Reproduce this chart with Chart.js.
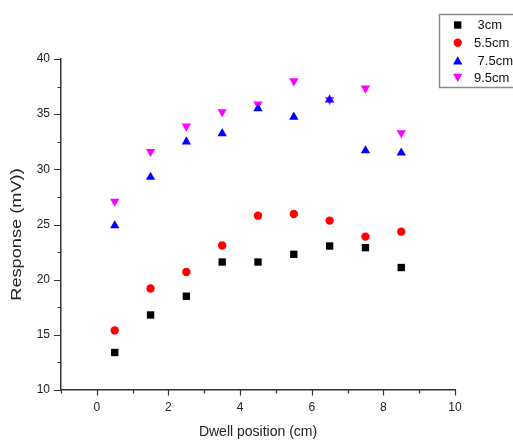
<!DOCTYPE html>
<html>
<head>
<meta charset="utf-8">
<script src="https://cdn.jsdelivr.net/npm/chart.js@4/dist/chart.umd.min.js"></script>
<style>
  html, body { margin: 0; padding: 0; background: #fff; }
  #wrap { width: 513px; height: 441px; }
</style>
</head>
<body>
<div id="wrap"><canvas id="c" width="513" height="441"></canvas></div>
<script>
// Dwell positions along the source path (cm)
const positions = [0.5, 1.5, 2.5, 3.5, 4.5, 5.5, 6.5, 7.5, 8.5];

// Detector response (mV) at each source distance
const resp3cm  = [13.4, 16.8, 18.5, 21.6, 21.6, 22.3, 23.05, 22.9, 21.1];
const resp55cm = [15.4, 19.2, 20.7, 23.1, 25.8, 25.95, 25.35, 23.9, 24.35];
const resp75cm = [24.9, 29.3, 32.5, 33.25, 35.5, 34.75, 36.3, 31.7, 31.5];
const resp95cm = [27.1, 31.6, 33.9, 35.2, 35.9, 38.0, 36.3, 37.35, 33.3];

const seriesNames = [' 3cm', '5.5cm', ' 7.5cm', '9.5cm'];
const xTickLabels = [0, 2, 4, 6, 8, 10];
const yTickLabels = [10, 15, 20, 25, 30, 35, 40];
const xMinorTicks = [-1, 1, 3, 5, 7, 9];
const yMinorTicks = [12.5, 17.5, 22.5, 27.5, 32.5, 37.5];

const FONT = 'Arial, "Liberation Sans", sans-serif';
const AXIS_COLOR = '#333';

const styles = [
  { color: '#000000', pointStyle: 'rect',     radius: 5.2, rotation: 0 },
  { color: '#ff0000', pointStyle: 'circle',   radius: 4.2, rotation: 0 },
  { color: '#0000ff', pointStyle: 'triangle', radius: 5.4, rotation: 0 },
  { color: '#ff00ff', pointStyle: 'triangle', radius: 5.4, rotation: 180 }
];
const allSeries = [resp3cm, resp55cm, resp75cm, resp95cm];

const datasets = allSeries.map((vals, i) => ({
  label: seriesNames[i].trim(),
  data: positions.map((p, j) => ({ x: p, y: vals[j] })),
  backgroundColor: styles[i].color,
  borderColor: styles[i].color,
  borderWidth: 0,
  pointStyle: styles[i].pointStyle,
  pointRadius: styles[i].radius,
  pointRotation: styles[i].rotation,
  pointHoverRadius: styles[i].radius,
  showLine: false
}));

// Outward major/minor tick marks on the left and bottom axes
const tickMarks = {
  id: 'tickMarks',
  afterDraw(chart) {
    const ctx = chart.ctx;
    const xs = chart.scales.x, ys = chart.scales.y;
    const area = chart.chartArea;
    ctx.save();
    ctx.strokeStyle = AXIS_COLOR;
    ctx.lineWidth = 1.2;
    ctx.beginPath();
    xTickLabels.forEach(v => {
      const px = Math.round(xs.getPixelForValue(v)) + 0.5;
      ctx.moveTo(px, area.bottom); ctx.lineTo(px, area.bottom + 5.5);
    });
    xMinorTicks.forEach(v => {
      const px = Math.round(xs.getPixelForValue(v)) + 0.5;
      ctx.moveTo(px, area.bottom); ctx.lineTo(px, area.bottom + 3.5);
    });
    yTickLabels.forEach(v => {
      const py = Math.round(ys.getPixelForValue(v)) + 0.5;
      ctx.moveTo(area.left, py); ctx.lineTo(area.left - 7, py);
    });
    yMinorTicks.forEach(v => {
      const py = Math.round(ys.getPixelForValue(v)) + 0.5;
      ctx.moveTo(area.left, py); ctx.lineTo(area.left - 3.5, py);
    });
    ctx.stroke();
    ctx.restore();
  }
};

// Vertical axis title, drawn a little elongated along its length
const yTitle = {
  id: 'yTitle',
  afterDraw(chart) {
    const ctx = chart.ctx;
    const area = chart.chartArea;
    ctx.save();
    ctx.translate(17, (area.top + area.bottom) / 2 + 10);
    ctx.rotate(-Math.PI / 2);
    ctx.scale(1.3, 1);
    ctx.fillStyle = '#222';
    ctx.font = '14px ' + FONT;
    ctx.textAlign = 'center';
    ctx.textBaseline = 'middle';
    ctx.fillText('Response (mV))', 0, 0);
    ctx.restore();
  }
};

// Boxed legend in the upper-right corner
const boxLegend = {
  id: 'boxLegend',
  afterDraw(chart) {
    const ctx = chart.ctx;
    ctx.save();
    ctx.strokeStyle = '#8a8a8a';
    ctx.lineWidth = 1.5;
    ctx.strokeRect(439.5, 14.5, 90, 73);
    const rowY = [25, 42.7, 60.5, 77.7];
    ctx.font = '13px ' + FONT;
    ctx.textBaseline = 'middle';
    ctx.textAlign = 'left';
    seriesNames.forEach((name, i) => {
      const s = styles[i];
      ctx.fillStyle = s.color;
      ctx.strokeStyle = s.color;
      ctx.lineWidth = 0;
      Chart.helpers.drawPoint(ctx, {
        pointStyle: s.pointStyle, radius: s.radius, rotation: s.rotation, borderWidth: 0
      }, 457.7, rowY[i] + (s.pointStyle === 'triangle' ? (s.rotation ? -1.2 : 1.2) : 0));
      ctx.fillStyle = '#111';
      ctx.fillText(name, 474, rowY[i] + 0.5);
    });
    ctx.restore();
  }
};

new Chart(document.getElementById('c'), {
  type: 'scatter',
  data: { datasets },
  options: {
    responsive: false,
    animation: false,
    devicePixelRatio: 1,
    layout: { padding: { left: 0, right: 58, top: 59, bottom: 0 } },
    plugins: {
      legend: { display: false },
      tooltip: { enabled: false },
      title: { display: false }
    },
    elements: { point: { borderWidth: 0 } },
    clip: false,
    scales: {
      x: {
        type: 'linear',
        min: -1, max: 10,
        afterFit(scale) { scale.height = 51; },
        grid: { display: false, drawTicks: false },
        border: { display: true, color: AXIS_COLOR, width: 1.5 },
        ticks: {
          stepSize: 1,
          padding: 10,
          color: '#222',
          font: { family: FONT, size: 12 },
          maxRotation: 0,
          autoSkip: false,
          callback: v => xTickLabels.includes(v) ? String(v) : ''
        },
        title: {
          display: true,
          text: 'Dwell position (cm)',
          color: '#222',
          font: { family: FONT, size: 14 },
          padding: { top: 0, bottom: 0 }
        }
      },
      y: {
        type: 'linear',
        min: 10, max: 40,
        afterFit(scale) { scale.width = 61; },
        grid: { display: false, drawTicks: false },
        border: { display: true, color: AXIS_COLOR, width: 1.5 },
        ticks: {
          stepSize: 5,
          padding: 11,
          color: '#222',
          font: { family: FONT, size: 12 },
          callback: v => yTickLabels.includes(v) ? String(v) : ''
        }
      }
    }
  },
  plugins: [tickMarks, yTitle, boxLegend]
});
</script>
</body>
</html>
